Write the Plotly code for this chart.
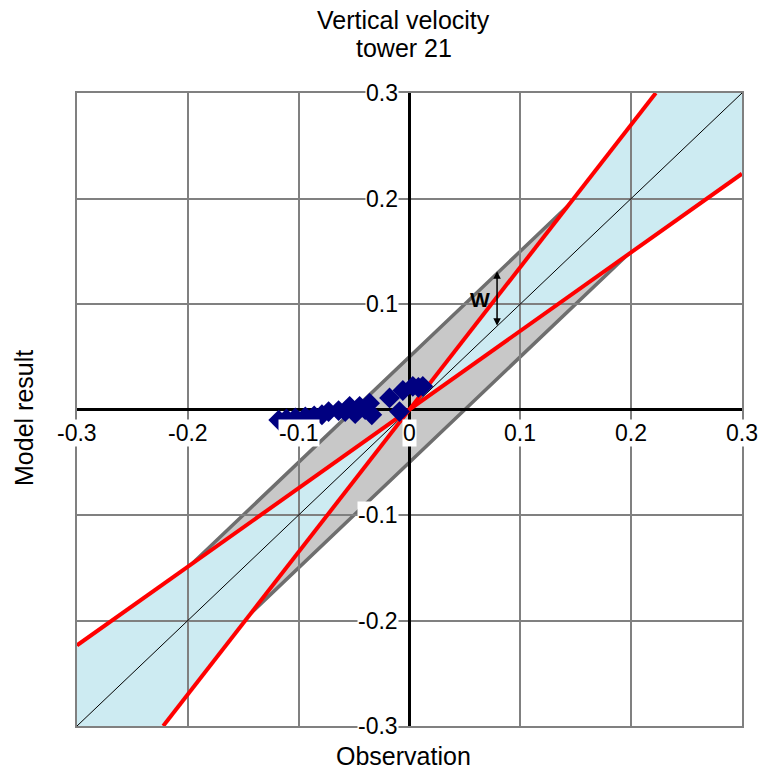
import plotly.graph_objects as go

# ---- data ----
obs_x = [-0.118, -0.111, -0.103, -0.094, -0.086, -0.079, -0.073, -0.064, -0.058, -0.054,
         -0.049, -0.045, -0.040, -0.036, -0.034, -0.018, -0.009, -0.006, 0.003, 0.008, 0.012]
model_y = [-0.010, -0.009, -0.008, -0.007, -0.006, -0.005, -0.002, -0.001, -0.002, 0.003,
           -0.004, 0.003, 0.000, 0.006, -0.005, 0.011, -0.002, 0.018, 0.022, 0.021, 0.022]

band_corner_x = [-0.2, 0.15, 0.2, -0.15]
band_corner_y = [-0.15, 0.2, 0.15, -0.2]
red_slopes = [1.35, 0.745]
axis_min, axis_max = -0.3, 0.3
x_tick_vals = [-0.3, -0.2, -0.1, 0, 0.1, 0.2, 0.3]
x_tick_text = ["-0.3", "-0.2", "-0.1", "0", "0.1", "0.2", "0.3"]
y_tick_vals = [0.3, 0.2, 0.1, -0.1, -0.2, -0.3]
y_tick_text = ["0.3", "0.2", "0.1", "-0.1", "-0.2", "-0.3"]
title_lines = ["Vertical velocity", "tower 21"]
w_arrow_x = 0.079
w_arrow_y = [0.078, 0.131]
w_label_pos = [0.0636, 0.104]

FONT = "Liberation Sans, Arial, sans-serif"

fig = go.Figure()

# gray band
path = "M " + " L ".join(f"{x},{y}" for x, y in zip(band_corner_x, band_corner_y)) + " Z"
fig.add_shape(type="path", path=path, xref="x", yref="y", layer="below",
              fillcolor="#c8c8c8", line=dict(color="#6e6e6e", width=3.5))

# blue wedges between red lines
s_hi, s_lo = red_slopes
for sign in (1, -1):
    m = axis_max * sign
    pts = [(0, 0), (m / s_hi, m), (m, m), (m, m * s_lo)]
    p = "M " + " L ".join(f"{x},{y}" for x, y in pts) + " Z"
    fig.add_shape(type="path", path=p, xref="x", yref="y", layer="below",
                  fillcolor="#cdebf2", line=dict(width=0))

# 1:1 line
fig.add_trace(go.Scatter(x=[axis_min, axis_max], y=[axis_min, axis_max], mode="lines",
                         line=dict(color="black", width=1), hoverinfo="skip", showlegend=False))

# red lines
for s in red_slopes:
    if abs(s) > 1:
        xs = [axis_min / s, axis_max / s]
    else:
        xs = [axis_min, axis_max]
    fig.add_trace(go.Scatter(x=xs, y=[v * s for v in xs], mode="lines",
                             line=dict(color="#ff0000", width=4), hoverinfo="skip",
                             showlegend=False))

# data points
fig.add_trace(go.Scatter(x=obs_x, y=model_y, mode="markers",
                         marker=dict(symbol="diamond", size=16, color="#000080"),
                         showlegend=False))

ax_common = dict(range=[axis_min, axis_max], dtick=0.1, tick0=0, showgrid=True,
                 gridcolor="#808080", gridwidth=1.5, zeroline=True, zerolinecolor="black",
                 zerolinewidth=2.5, showticklabels=False, ticks="", showline=True,
                 linecolor="#808080", linewidth=1.5, mirror=True, fixedrange=True)

TICK_SIZE = 23
annotations = []
for v, t in zip(x_tick_vals, x_tick_text):
    annotations.append(dict(x=v, y=0, xref="x", yref="y", text=t, showarrow=False,
                            yshift=-23, xanchor="center", yanchor="middle", bgcolor="white",
                            borderpad=0, font=dict(family=FONT, size=TICK_SIZE, color="black")))
for v, t in zip(y_tick_vals, y_tick_text):
    annotations.append(dict(x=0, y=v, xref="x", yref="y", text=t, showarrow=False,
                            xshift=-11, xanchor="right", yanchor="middle", bgcolor="white",
                            borderpad=0, font=dict(family=FONT, size=TICK_SIZE, color="black")))

# W arrow
annotations.append(dict(x=w_arrow_x, y=w_arrow_y[1], ax=w_arrow_x, ay=w_arrow_y[0],
                        xref="x", yref="y", axref="x", ayref="y", text="", showarrow=True,
                        arrowhead=2, startarrowhead=2, arrowside="end+start", arrowsize=1,
                        arrowwidth=1.5, arrowcolor="black"))
annotations.append(dict(x=w_label_pos[0], y=w_label_pos[1], xref="x", yref="y",
                        text="<b>W</b>", showarrow=False,
                        font=dict(family=FONT, size=21, color="black")))

# title lines
for i, line in enumerate(title_lines):
    annotations.append(dict(x=0.4917, y=1, xref="paper", yref="paper", text=line,
                            showarrow=False, yshift=73 - 28 * i, yanchor="middle",
                            xanchor="center", font=dict(family=FONT, size=25, color="black")))

# axis titles
annotations.append(dict(x=0.4917, y=0, xref="paper", yref="paper", text="Observation",
                        showarrow=False, yshift=-46, yanchor="bottom",
                        font=dict(family=FONT, size=25, color="black")))
annotations.append(dict(x=0, y=0.4866, xref="paper", yref="paper", text="Model result",
                        showarrow=False, xshift=-53, textangle=-90, xanchor="center",
                        yanchor="middle", font=dict(family=FONT, size=25, color="black")))

fig.update_layout(
    width=760, height=773,
    margin=dict(l=77, r=18, t=93, b=47),
    paper_bgcolor="white", plot_bgcolor="white",
    xaxis=ax_common, yaxis=ax_common,
    annotations=annotations,
    showlegend=False,
)

fig.write_html("out.html")
